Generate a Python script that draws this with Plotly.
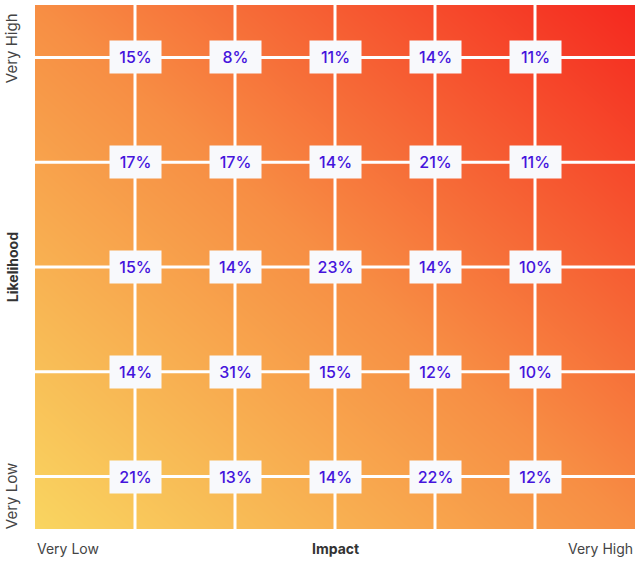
import numpy as np
import plotly.graph_objects as go

impact = ["Very Low", "Low", "Medium", "High", "Very High"]
likelihood = ["Very Low", "Low", "Medium", "High", "Very High"]
# rows: likelihood from Very Low (bottom) to Very High (top); columns: impact Very Low -> Very High
values = [
    [21, 13, 14, 22, 12],
    [14, 31, 15, 12, 10],
    [15, 14, 23, 14, 10],
    [17, 17, 14, 21, 11],
    [15, 8, 11, 14, 11],
]

xpos = [1, 2, 3, 4, 5]
ypos = [1, 2, 3, 4, 5]
XR = [0, 6]
YR = [0.5, 5.5]

# background gradient (style only)
gx = np.linspace(XR[0], XR[1], 30)
gy = np.linspace(YR[0], YR[1], 30)
U = (gx - XR[0]) / (XR[1] - XR[0])
V = (gy - YR[0]) / (YR[1] - YR[0])
Z = (V[:, None] + U[None, :]) / 2

fig = go.Figure()
fig.add_trace(go.Heatmap(
    x=gx, y=gy, z=Z, zsmooth="best", showscale=False, hoverinfo="skip",
    zmin=0, zmax=1,
    colorscale=[[0, "#F9D560"], [0.5, "#F78E44"], [1, "#F5281F"]],
))

shapes = []
for x in xpos:
    shapes.append(dict(type="line", xref="x", yref="y", x0=x, x1=x, y0=YR[0], y1=YR[1],
                       line=dict(color="white", width=3), layer="above"))
for y in ypos:
    shapes.append(dict(type="line", xref="x", yref="y", x0=XR[0], x1=XR[1], y0=y, y1=y,
                       line=dict(color="white", width=3), layer="above"))

ann = []
for i, y in enumerate(ypos):
    for j, x in enumerate(xpos):
        ann.append(dict(x=x, y=y, xref="x", yref="y", text=f"{values[i][j]}%", showarrow=False,
                        font=dict(family="Inter, Open Sans, sans-serif", size=16, color="#4514DC", weight=500),
                        bgcolor="#F8F9FC", width=47, height=28, borderpad=2))

lab = dict(family="Inter, Open Sans, sans-serif", size=14, color="#444444")
ylab = dict(family="Inter, Open Sans, sans-serif", size=15, color="#444444")
bold = dict(family="Inter, Open Sans, sans-serif", size=14, color="#333333", weight=700)
ann += [
    dict(x=0, y=-0.018, xref="paper", yref="paper", text="Very Low", showarrow=False,
         xanchor="left", yanchor="top", font=lab),
    dict(x=0.5, y=-0.018, xref="paper", yref="paper", text="Impact", showarrow=False,
         xanchor="center", yanchor="top", font=bold),
    dict(x=1, y=-0.018, xref="paper", yref="paper", text="Very High", showarrow=False,
         xanchor="right", yanchor="top", font=lab),
    dict(x=-0.038, y=0.918, xref="paper", yref="paper", text="Very High", showarrow=False,
         textangle=-90, xanchor="center", yanchor="middle", font=ylab),
    dict(x=-0.038, y=0.5, xref="paper", yref="paper", text="Likelihood", showarrow=False,
         textangle=-90, xanchor="center", yanchor="middle", font=bold),
    dict(x=-0.038, y=0.063, xref="paper", yref="paper", text="Very Low", showarrow=False,
         textangle=-90, xanchor="center", yanchor="middle", font=ylab),
]

fig.update_layout(
    width=636, height=564,
    margin=dict(l=35, r=1, t=5, b=35),
    paper_bgcolor="white", plot_bgcolor="white",
    xaxis=dict(range=XR, showgrid=False, zeroline=False, showticklabels=False, ticks="", fixedrange=True),
    yaxis=dict(range=YR, showgrid=False, zeroline=False, showticklabels=False, ticks="", fixedrange=True),
    shapes=shapes, annotations=ann, showlegend=False,
)

fig.write_html("out.html")
